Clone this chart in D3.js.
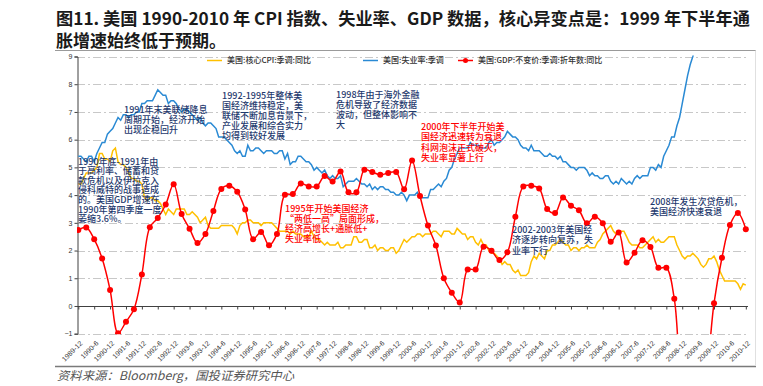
<!DOCTYPE html>
<html><head><meta charset="utf-8">
<script src="https://cdn.jsdelivr.net/npm/d3@7/dist/d3.min.js"></script>
<style>
html,body{margin:0;padding:0;background:#fff;}
svg{display:block;}
</style></head>
<body>
<svg id="chart" width="763" height="386"></svg>
<script>
// ---------------- DATA ----------------
const titleLines = ["图11. 美国 1990-2010 年 CPI 指数、失业率、GDP 数据，核心异变点是：1999 年下半年通", "胀增速始终低于预期。"];
const sourceText = "资料来源：Bloomberg，国投证券研究中心";
const seriesNames = ["美国:核心CPI:季调:同比", "美国:失业率:季调", "美国:GDP:不变价:季调:折年数:同比"];
const yTicks = [-1, 0, 1, 2, 3, 4, 5, 6, 7, 8, 9];
const xTickLabels = ["1989-12","1990-6","1990-12","1991-6","1991-12","1992-6","1992-12","1993-6","1993-12","1994-6","1994-12","1995-6","1995-12","1996-6","1996-12","1997-6","1997-12","1998-6","1998-12","1999-6","1999-12","2000-6","2000-12","2001-6","2001-12","2002-6","2002-12","2003-6","2003-12","2004-6","2004-12","2005-6","2005-12","2006-6","2006-12","2007-6","2007-12","2008-6","2008-12","2009-6","2009-12","2010-6","2010-12"];
// monthly, 1989-12 .. 2010-12
const coreCPI = [4.4,
 4.4,4.6,4.8,4.8,4.8,4.9,5.0,5.5,5.5,5.3,5.3,5.2,
 5.6,5.7,5.2,5.1,5.1,5.0,4.8,4.6,4.6,4.5,4.5,4.4,
 3.9,3.8,3.9,3.9,3.8,3.8,3.7,3.5,3.3,3.5,3.4,3.3,
 3.5,3.5,3.5,3.5,3.3,3.3,3.4,3.3,3.2,3.0,3.1,3.2,
 2.9,2.8,2.8,2.8,2.8,2.9,2.9,2.9,2.9,2.9,2.8,2.6,
 2.9,3.0,3.0,3.1,3.1,3.0,3.0,3.0,2.9,3.0,3.0,3.0,
 3.0,2.9,2.8,2.7,2.7,2.7,2.7,2.6,2.7,2.6,2.6,2.6,
 2.5,2.5,2.5,2.7,2.5,2.4,2.4,2.3,2.2,2.3,2.2,2.2,
 2.2,2.3,2.1,2.1,2.2,2.2,2.2,2.5,2.5,2.3,2.3,2.4,
 2.4,2.1,2.1,2.2,2.0,2.1,2.1,2.0,2.0,2.1,2.1,1.9,
 2.0,2.2,2.4,2.3,2.4,2.5,2.5,2.6,2.6,2.5,2.6,2.6,
 2.6,2.7,2.7,2.6,2.5,2.7,2.7,2.7,2.6,2.6,2.8,2.7,
 2.6,2.6,2.4,2.5,2.5,2.3,2.2,2.4,2.2,2.2,2.0,1.9,
 1.9,1.8,1.7,1.5,1.6,1.5,1.5,1.3,1.2,1.3,1.1,1.1,
 1.1,1.2,1.6,1.8,1.7,1.9,1.8,1.7,2.0,2.0,2.2,2.2,
 2.3,2.4,2.3,2.2,2.2,2.0,2.1,2.1,2.0,2.1,2.1,2.2,
 2.1,2.1,2.1,2.3,2.4,2.6,2.7,2.8,2.9,2.7,2.6,2.6,
 2.7,2.7,2.5,2.3,2.2,2.2,2.2,2.1,2.1,2.2,2.3,2.4,
 2.5,2.3,2.4,2.3,2.3,2.4,2.5,2.5,2.5,2.2,2.0,1.8,
 1.7,1.8,1.8,1.9,1.8,1.7,1.5,1.4,1.5,1.7,1.7,1.8,
 1.6,1.3,1.1,0.9,0.9,0.9,0.9,0.9,0.8,0.6,0.8,0.75];
const unemployment = [5.4,
 5.4,5.3,5.2,5.4,5.4,5.2,5.5,5.7,5.9,5.9,6.2,6.3,
 6.4,6.6,6.8,6.7,6.9,6.9,6.8,6.9,6.9,7.0,7.0,7.3,
 7.3,7.4,7.4,7.4,7.6,7.8,7.7,7.6,7.6,7.3,7.4,7.4,
 7.3,7.1,7.0,7.1,7.1,7.0,6.9,6.8,6.7,6.8,6.6,6.5,
 6.6,6.6,6.5,6.4,6.1,6.1,6.1,6.0,5.9,5.8,5.6,5.5,
 5.6,5.4,5.4,5.8,5.6,5.6,5.7,5.7,5.6,5.5,5.6,5.6,
 5.6,5.5,5.5,5.6,5.6,5.3,5.5,5.1,5.2,5.2,5.4,5.4,
 5.3,5.2,5.2,5.1,4.9,5.0,4.9,4.8,4.9,4.7,4.6,4.7,
 4.6,4.6,4.7,4.3,4.4,4.5,4.5,4.5,4.6,4.5,4.4,4.4,
 4.3,4.4,4.2,4.3,4.2,4.3,4.3,4.2,4.2,4.1,4.1,4.0,
 4.0,4.1,4.0,3.8,4.0,4.0,4.0,4.1,3.9,3.9,3.9,3.9,
 4.2,4.2,4.3,4.4,4.3,4.5,4.6,4.9,5.0,5.3,5.5,5.7,
 5.7,5.7,5.7,5.9,5.8,5.8,5.8,5.7,5.7,5.7,5.9,6.0,
 5.8,5.9,5.9,6.0,6.1,6.3,6.2,6.1,6.1,6.0,5.8,5.7,
 5.7,5.6,5.8,5.6,5.6,5.6,5.5,5.4,5.4,5.5,5.4,5.4,
 5.3,5.4,5.2,5.2,5.1,5.0,5.0,4.9,5.0,5.0,5.0,4.9,
 4.7,4.8,4.7,4.7,4.6,4.6,4.7,4.7,4.5,4.4,4.5,4.4,
 4.6,4.5,4.4,4.5,4.4,4.6,4.7,4.6,4.7,4.7,4.7,5.0,
 5.0,4.9,5.1,5.0,5.4,5.6,5.8,6.1,6.1,6.5,6.8,7.3,
 7.8,8.3,8.7,9.0,9.4,9.5,9.5,9.6,9.8,10.0,9.9,9.9,
 9.8,9.8,9.9,9.9,9.6,9.4,9.4,9.5,9.5,9.4,9.8,9.3];
// quarterly, 1989-12 .. 2010-12
const gdp = [2.74,2.83,2.41,1.71,0.58,-0.98,-0.57,-0.12,1.14,2.84,3.17,3.66,4.39,3.32,2.79,2.27,2.60,3.43,4.22,4.34,
 4.12,3.48,2.41,2.67,2.19,2.60,4.01,4.04,4.42,4.31,4.31,4.69,4.49,4.85,4.10,4.10,4.91,4.83,4.73,4.80,
 4.83,4.21,5.25,3.97,2.90,2.18,1.00,0.48,0.13,1.32,1.32,2.14,1.99,1.66,1.94,3.22,4.31,4.34,4.24,3.50,
 3.35,3.91,3.62,3.45,2.98,3.22,2.98,2.32,2.65,1.57,1.92,2.37,2.13,1.38,1.38,0.26,-2.7,-3.3,-3.8,-2.6,
 0.10,1.74,2.92,3.35,2.77];

const notesNavy = [
  {lines:["1991年末美联储降息","周期开始，经济开始","出现企稳回升"], x:124, y:113, lh:10.2},
  {lines:["1990年底-1991年由","于高利率、储蓄和贷","款危机以及伊拉克入","侵科威特的战事造成","的。美国GDP增速在","1990年第四季度一度","萎缩3.6%。"], x:78, y:164.5, lh:9.6},
  {lines:["1992-1995年整体美","国经济维持稳定，美","联储不断加息背景下，","产业发展和综合实力","均得到较好发展"], x:222, y:99, lh:10.1},
  {lines:["1998年由于海外金融","危机导致了经济数据","波动，但整体影响不","大"], x:336, y:98, lh:10.1},
  {lines:["2002-2003年美国经","济逐步转向复苏，失","业率下行"], x:512, y:233, lh:10.4},
  {lines:["2008年发生次贷危机，","美国经济快速衰退"], x:650, y:205, lh:10.2}
];
const notesRed = [
  {lines:["2000年下半年开始美","国经济迅速转为衰退","科网泡沫正式破灭，","失业率显著上行"], x:421, y:130, lh:10.3},
  {lines:["1995年开始美国经济","“两低一高”局面形成，","经济高增长+通胀低+","失业率低"], x:285, y:211.5, lh:10.3}
];

// ---------------- CHART ----------------
const svg = d3.select("#chart");
const colCPI = "#FFC000", colUE = "#2A8AD4", colGDP = "#FF0000";
const x = d3.scaleLinear().domain([0, 252]).range([78.3, 745.8]);
const y = d3.scaleLinear().domain([-1, 9]).range([333.7, 56.5]);
const plotL = 77, plotR = 748;

// title
svg.selectAll("text.title").data(titleLines).join("text")
  .attr("class","title")
  .attr("x", 56).attr("y", (d,i)=> 25 + i*22)
  .attr("font-family","'Noto Sans CJK SC', sans-serif")
  .attr("font-weight","bold").attr("font-size", 17)
  .attr("fill","#1a1a1a")
  .each(function(d,i){ if(i===0) d3.select(this).attr("textLength", 694).attr("lengthAdjust","spacingAndGlyphs"); })
  .text(d=>d);

// frame lines
svg.append("line").attr("x1",55).attr("x2",756).attr("y1",50.5).attr("y2",50.5).attr("stroke","#9a9a9a").attr("stroke-width",1);
svg.append("line").attr("x1",55).attr("x2",756).attr("y1",366.5).attr("y2",366.5).attr("stroke","#7a7a7a").attr("stroke-width",1.3);
svg.append("line").attr("x1",755.5).attr("x2",755.5).attr("y1",50.5).attr("y2",366).attr("stroke","#e0e0e0").attr("stroke-width",1);

// grid
svg.append("g").selectAll("line").data(yTicks.filter(v=>v!==0)).join("line")
  .attr("x1", plotL).attr("x2", plotR)
  .attr("y1", d=>Math.round(y(d))+0.5).attr("y2", d=>Math.round(y(d))+0.5)
  .attr("stroke","#c8c8c8").attr("stroke-width",1).attr("stroke-dasharray","8,3,2,3");

// y axis
const yAxis = d3.axisLeft(y).tickValues(yTicks).tickSize(3).tickFormat(d3.format("d"));
const gy = svg.append("g").attr("transform",`translate(${plotL+0.5},0)`).call(yAxis);
gy.select(".domain").attr("stroke","#404040");
gy.selectAll(".tick line").attr("stroke","#404040");
gy.selectAll(".tick text").attr("font-family","Arial, 'Liberation Sans', sans-serif").attr("font-size",7).attr("fill","#333").attr("x",-5);

// x axis at zero
const tickIdx = xTickLabels.map((d,i)=>i*6);
const xAxis = d3.axisBottom(x).tickValues(tickIdx).tickSize(3).tickFormat("");
const gx = svg.append("g").attr("transform",`translate(0,${Math.round(y(0))+0.5})`).call(xAxis);
gx.select(".domain").attr("stroke","#404040").attr("d", `M${plotL},0H${plotR}`);
gx.selectAll(".tick line").attr("stroke","#404040");

// x labels along bottom
svg.append("g").selectAll("text").data(xTickLabels).join("text")
  .attr("transform",(d,i)=>`translate(${x(i*6)+3},${342}) rotate(-45)`)
  .attr("text-anchor","end").attr("dy","0.35em")
  .attr("font-family","Arial, 'Liberation Sans', sans-serif").attr("font-size",7).attr("fill","#333")
  .text(d=>d);

// clip
svg.append("clipPath").attr("id","clip").append("rect")
  .attr("x", plotL).attr("y", y(9)-1).attr("width", plotR-plotL+2).attr("height", y(-1)-y(9)+1.5);
const plot = svg.append("g").attr("clip-path","url(#clip)");

const lineM = d3.line().x((d,i)=>x(i)).y(d=>y(d));
plot.append("path").datum(coreCPI).attr("d", lineM).attr("fill","none").attr("stroke",colCPI).attr("stroke-width",1.5);
plot.append("path").datum(unemployment).attr("d", lineM).attr("fill","none").attr("stroke",colUE).attr("stroke-width",1.5);
const lineQ = d3.line().x((d,i)=>x(i*3)).y(d=>y(d)).curve(d3.curveCatmullRom.alpha(0.5));
plot.append("path").datum(gdp).attr("d", lineQ).attr("fill","none").attr("stroke",colGDP).attr("stroke-width",1.5);
plot.append("g").selectAll("circle").data(gdp).join("circle")
  .attr("cx",(d,i)=>x(i*3)).attr("cy",d=>y(d)).attr("r",3).attr("fill",colGDP);

// legend
const legX = [207, 363, 458];
const legCol = [colCPI, colUE, colGDP];
const lg = svg.append("g");
seriesNames.forEach((n,i)=>{
  lg.append("line").attr("x1",legX[i]).attr("x2",legX[i]+15).attr("y1",60.5).attr("y2",60.5).attr("stroke",legCol[i]).attr("stroke-width",1.5);
  if(i===2) lg.append("circle").attr("cx",legX[i]+7.5).attr("cy",60.5).attr("r",2.5).attr("fill",colGDP);
  lg.append("text").attr("x",legX[i]+20).attr("y",63.3).attr("font-family","'Noto Sans CJK SC', sans-serif")
    .attr("font-size",8).attr("font-weight",500).attr("fill","#333").text(n);
});

// annotations
function drawNotes(notes, color){
  notes.forEach(nt=>{
    const t = svg.append("text").attr("font-family","'Noto Sans CJK SC', sans-serif").attr("font-size",9)
      .attr("fill",color).attr("font-weight",500);
    nt.lines.forEach((ln,j)=>{
      t.append("tspan").attr("x",nt.x).attr("y",nt.y + j*nt.lh).text(ln);
    });
  });
}
drawNotes(notesNavy, "#1F3A6E");
drawNotes(notesRed, "#FF0000");

// source
svg.append("text").attr("x",57).attr("y",380).attr("font-family","'Noto Sans CJK SC', sans-serif")
  .attr("font-style","italic").attr("font-size",12).attr("fill","#555")
  .attr("textLength",237).attr("lengthAdjust","spacingAndGlyphs").text(sourceText);
</script>
</body></html>
